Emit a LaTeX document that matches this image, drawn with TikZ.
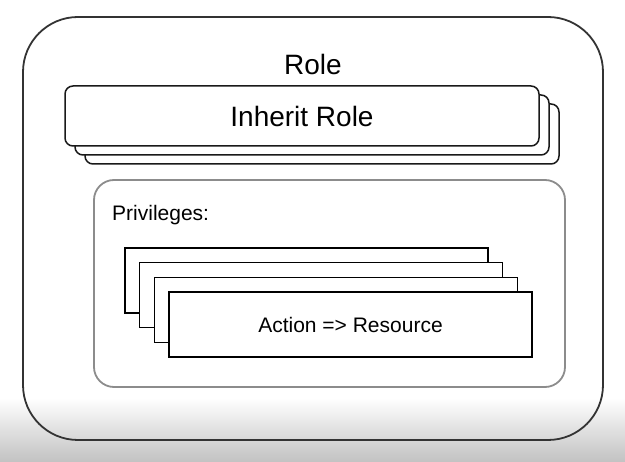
\documentclass[tikz,border=0pt]{standalone}
\usepackage{fontspec}
\setmainfont{Liberation Sans}
\usetikzlibrary{positioning}
\tikzset{
  outerbox/.style={draw=black!80, line width=1.8pt, rounded corners=55pt, minimum width=580pt, minimum height=423pt},
  inheritbox/.style={draw=black!90, fill=white, line width=1.5pt, rounded corners=8pt, minimum width=474pt, minimum height=60pt, inner sep=0pt},
  privbox/.style={draw=black!45, line width=1.8pt, rounded corners=20pt, minimum width=471pt, minimum height=207pt},
  actionbox/.style={draw=black, fill=white, line width=1.5pt, minimum width=363pt, minimum height=65pt, inner sep=0pt},
  bigtext/.style={font=\fontsize{28}{33}\selectfont},
  smalltext/.style={font=\fontsize{21}{25}\selectfont}
}

\begin{document}
\begin{tikzpicture}[x=1pt,y=-1pt]
  \useasboundingbox (0,0) rectangle (625,462);
  % fade at the bottom edge
  \shade[top color=white, bottom color=black!24] (0,398) rectangle (625,462);

  \node[outerbox] (role) at (313,228.5) {};
  \node[bigtext, anchor=base] (roletitle) at (313,75) {Role};

  % stacked inherited roles
  \foreach \i in {2,1}
    \node[inheritbox] (inherit\i) at (302+10*\i,116+9*\i) {};
  \node[inheritbox, bigtext] (inherit0) at (302,116) {Inherit Role};

  \node[privbox] (privs) at (329.5,283.5) {};
  \node[smalltext, anchor=base west, inner sep=0pt] (privtitle) at (112,221) {Privileges:};

  % stacked privileges
  \foreach \i in {3,2,1}
    \node[actionbox] (action\i) at (350.5-14.67*\i,324.5-14.67*\i) {};
  \node[actionbox, smalltext] (action0) at (350.5,324.5) {Action => Resource};
\end{tikzpicture}
\end{document}
